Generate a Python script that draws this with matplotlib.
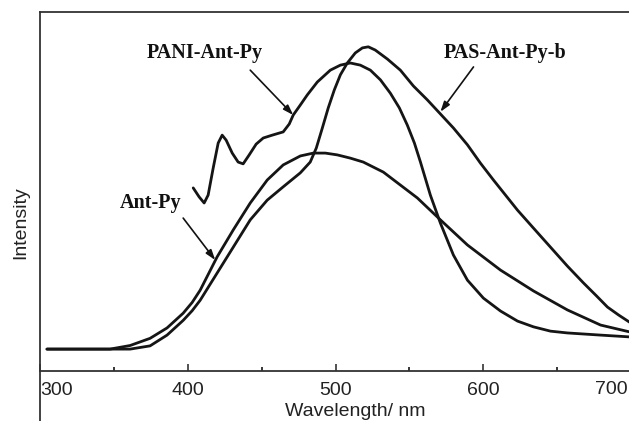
import matplotlib
matplotlib.use("Agg")
import matplotlib.pyplot as plt
from matplotlib.lines import Line2D

# values (intensity in arbitrary units)
wl_ant_py = [304.7, 347.4, 361.0, 374.5, 386.0, 396.9, 403.0, 408.4, 419.9, 430.8,
             442.3, 453.8, 464.6, 476.2, 485.0, 493.1, 501.2, 510.0, 518.8, 532.4,
             543.9, 555.4, 571.0, 589.3, 611.7, 634.0, 657.0, 679.4, 699.0]
int_ant_py = [0.061, 0.061, 0.071, 0.091, 0.120, 0.161, 0.191, 0.225, 0.318, 0.393,
              0.468, 0.532, 0.574, 0.599, 0.607, 0.607, 0.602, 0.593, 0.582, 0.554,
              0.518, 0.482, 0.421, 0.351, 0.281, 0.223, 0.170, 0.128, 0.109]

wl_pas = [304.7, 361.0, 374.5, 386.0, 396.9, 403.0, 408.4, 419.9, 430.8, 442.3,
          453.8, 464.6, 476.2, 482.9, 487.0, 491.1, 495.1, 499.2, 503.3, 508.0,
          513.4, 518.2, 522.2, 526.9, 535.1, 543.9, 552.7, 562.2, 571.0, 579.8,
          589.3, 598.1, 606.9, 623.2, 634.0, 645.5, 657.0, 667.9, 676.7, 684.1,
          691.6, 699.0]
int_pas = [0.061, 0.061, 0.070, 0.100, 0.141, 0.168, 0.197, 0.273, 0.345, 0.421,
           0.476, 0.513, 0.552, 0.582, 0.621, 0.677, 0.733, 0.783, 0.825, 0.858,
           0.886, 0.900, 0.903, 0.894, 0.869, 0.838, 0.794, 0.755, 0.716, 0.677,
           0.630, 0.579, 0.532, 0.448, 0.398, 0.345, 0.292, 0.245, 0.209, 0.178,
           0.156, 0.136]

wl_pani = [403.7, 407.7, 411.1, 413.8, 417.2, 420.6, 423.3, 426.0, 430.1, 434.1,
           437.5, 441.6, 446.3, 451.1, 457.2, 464.6, 468.7, 471.4, 476.2, 480.9,
           487.7, 496.5, 503.3, 510.0, 516.8, 523.6, 530.4, 537.1, 543.2, 548.6,
           553.4, 557.5, 564.2, 571.0, 579.8, 589.3, 600.1, 611.7, 623.2, 634.0,
           645.5, 657.0, 679.4, 699.0]
int_pani = [0.510, 0.485, 0.468, 0.490, 0.565, 0.635, 0.657, 0.643, 0.607, 0.582,
            0.577, 0.602, 0.632, 0.649, 0.657, 0.666, 0.688, 0.713, 0.741, 0.769,
            0.805, 0.838, 0.852, 0.858, 0.852, 0.838, 0.811, 0.774, 0.733, 0.685,
            0.635, 0.582, 0.490, 0.412, 0.323, 0.253, 0.203, 0.167, 0.139, 0.123,
            0.111, 0.106, 0.100, 0.095]

x_ticks = [300, 400, 500, 600, 700]
x_tick_labels = ["300", "400", "500", "600", "700"]
x_minor = [350, 450, 550, 650]

W, H = 629, 421
fig = plt.figure(figsize=(W / 100, H / 100), dpi=100)
ax = fig.add_axes([40 / W, 1 - 371 / H, 591 / W, 359 / H])

line_kw = dict(color="#151515", linewidth=2.0, solid_joinstyle="round", solid_capstyle="round")
ax.plot(wl_ant_py, int_ant_py, **line_kw)
ax.plot(wl_pas, int_pas, **line_kw)
ax.plot(wl_pani, int_pani, **line_kw)

ax.set_xlim(300, 700)
ax.set_ylim(0, 1)
ax.set_xticks(x_ticks)
# last label sits at the figure edge, drawn separately below
ax.set_xticklabels(x_tick_labels[:-1] + [""])
ax.set_xticks(x_minor, minor=True)
ax.set_yticks([])
ax.tick_params(axis="x", which="major", direction="in", length=5, width=1.1,
               pad=8, labelsize=14, colors="#222222")
ax.tick_params(axis="x", which="minor", direction="in", length=3, width=1.1)
labels = ax.get_xticklabels()
labels[0].set_horizontalalignment("left")
for lab in labels:
    lab.set_family("Liberation Sans")

for side in ["left", "top", "bottom"]:
    ax.spines[side].set_linewidth(1.3)
    ax.spines[side].set_color("#333333")
ax.spines["right"].set_visible(False)

# left frame line runs on below the axis
fig.add_artist(Line2D([40 / W, 40 / W], [0, 1 - 371 / H], color="#333333", linewidth=1.3))

fig.text(628 / W, 1 - 390 / H, x_tick_labels[-1], ha="right", va="center",
         fontsize=14, family="Liberation Sans", color="#222222")
fig.text(355 / W, 1 - 411 / H, "Wavelength/ nm", ha="center", va="center",
         fontsize=14, family="Liberation Sans", color="#222222")
fig.text(21 / W, 1 - 223 / H, "Intensity", ha="center", va="center", rotation=90,
         fontsize=14, family="Liberation Sans", color="#222222")

txt_kw = dict(fontsize=14.5, fontweight="bold", family="Liberation Serif",
              ha="center", va="center", color="#111111")
ax.text(411.4, 0.886, "PANI-Ant-Py", **txt_kw)
ax.text(614.7, 0.886, "PAS-Ant-Py-b", **txt_kw)
ax.text(375.2, 0.468, "Ant-Py", **txt_kw)

arrow_kw = dict(arrowstyle="-|>,head_length=0.6,head_width=0.2", color="#111111",
                linewidth=1.2, shrinkA=0, shrinkB=0)
ax.annotate("", xy=(471.4, 0.713), xytext=(442.3, 0.838), arrowprops=arrow_kw)
ax.annotate("", xy=(571.0, 0.722), xytext=(593.4, 0.847), arrowprops=arrow_kw)
ax.annotate("", xy=(418.6, 0.309), xytext=(396.9, 0.426), arrowprops=arrow_kw)

fig.savefig("out.png", dpi=100)
